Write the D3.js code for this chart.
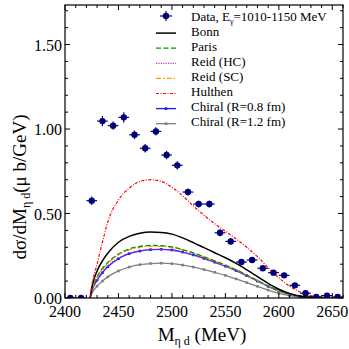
<!doctype html>
<html lang="en">
<head>
  <meta charset="utf-8">
  <title>eta d invariant mass</title>
  <style>
    body { margin: 0; background: #fff; }
    svg text { font-family: "Liberation Serif", "Times New Roman", serif; }
  </style>
</head>
<body>
<svg id="mysvg"></svg>
<script src="https://d3js.org/d3.v7.min.js"></script>
<script>
// measured points
var dataMass = [2405, 2415, 2425, 2435, 2445, 2455, 2465, 2475, 2485, 2495, 2505, 2515, 2525,
  2535, 2545, 2555, 2565, 2575, 2585, 2595, 2605, 2615, 2625, 2635, 2645, 2655];
var dataValue = [0, 0, 0.576, 1.047, 1.02, 1.069, 0.966, 0.886, 0.986, 0.846, 0.785, 0.627, 0.556,
  0.556, 0.386, 0.335, 0.213, 0.225, 0.176, 0.15, 0.134, 0.075, 0.028, 0.006, 0.014, 0.006];
var dataError = [0.01, 0.01, 0.025, 0.03, 0.025, 0.03, 0.025, 0.025, 0.025, 0.025, 0.025, 0.02, 0.02,
  0.02, 0.02, 0.02, 0.015, 0.015, 0.015, 0.015, 0.015, 0.01, 0.01, 0.008, 0.008, 0.008];
var binHalf = 5;

// model curves
var curveMass = [2423.5, 2425, 2430, 2435, 2440, 2450, 2460, 2470, 2480, 2490, 2500, 2510, 2520,
  2530, 2540, 2550, 2560, 2570, 2580, 2590, 2600, 2610, 2620, 2630, 2640, 2650, 2660];
var bonn = [0, 0.06, 0.16, 0.22, 0.265, 0.33, 0.365, 0.383, 0.39, 0.388, 0.378, 0.356, 0.328,
  0.298, 0.268, 0.238, 0.205, 0.167, 0.127, 0.087, 0.052, 0.027, 0.011, 0.004, 0.001, 0, 0];
var paris = [0, 0.045, 0.125, 0.175, 0.21, 0.26, 0.29, 0.305, 0.311, 0.31, 0.302, 0.287, 0.267,
  0.244, 0.22, 0.195, 0.167, 0.136, 0.104, 0.072, 0.044, 0.023, 0.01, 0.004, 0.001, 0, 0];
var reidHC = [0, 0.04, 0.11, 0.155, 0.19, 0.237, 0.265, 0.28, 0.287, 0.288, 0.283, 0.27, 0.253,
  0.232, 0.21, 0.186, 0.16, 0.13, 0.099, 0.068, 0.041, 0.021, 0.009, 0.003, 0.001, 0, 0];
var reidSC = [0, 0.044, 0.122, 0.17, 0.205, 0.255, 0.285, 0.3, 0.306, 0.306, 0.299, 0.285, 0.266,
  0.243, 0.219, 0.194, 0.166, 0.135, 0.103, 0.071, 0.043, 0.022, 0.01, 0.004, 0.001, 0, 0];
var hulthen = [0, 0.07, 0.2, 0.33, 0.45, 0.58, 0.65, 0.69, 0.70, 0.69, 0.655, 0.605, 0.545,
  0.49, 0.44, 0.395, 0.35, 0.3, 0.245, 0.18, 0.12, 0.07, 0.035, 0.013, 0.004, 0.001, 0];
var chiral08 = [0, 0.038, 0.105, 0.15, 0.185, 0.232, 0.262, 0.278, 0.286, 0.288, 0.284, 0.272, 0.255,
  0.234, 0.212, 0.188, 0.162, 0.132, 0.1, 0.069, 0.042, 0.021, 0.009, 0.003, 0.001, 0, 0];
var chiral12 = [0, 0.025, 0.07, 0.1, 0.125, 0.16, 0.183, 0.197, 0.204, 0.206, 0.203, 0.195, 0.183,
  0.168, 0.152, 0.134, 0.113, 0.091, 0.069, 0.047, 0.028, 0.014, 0.006, 0.002, 0.001, 0, 0];

var xTicks = [2400, 2450, 2500, 2550, 2600, 2650];
var yTicks = [0, 0.5, 1.0, 1.5];

var width = 349, height = 349;
var margin = {top: 5, right: 6, bottom: 51, left: 65};

var svg = d3.select("#mysvg").attr("width", width).attr("height", height);

var x = d3.scaleLinear().domain([2400, 2660]).range([margin.left, width - margin.right]);
var y = d3.scaleLinear().domain([0, 1.734]).range([height - margin.bottom, margin.top]);

var navy = "#00007a";

var models = [
  {name: "Bonn", values: bonn, color: "#000000", dash: null, width: 1.5},
  {name: "Paris", values: paris, color: "#009900", dash: "5,2.5", width: 1.3},
  {name: "Reid (HC)", values: reidHC, color: "#cc33cc", dash: "1.2,1.2", width: 1.2},
  {name: "Reid (SC)", values: reidSC, color: "#ff9900", dash: "5,2,1.5,2", width: 1.3},
  {name: "Hulthen", values: hulthen, color: "#ff0000", dash: "3,1.5,1,1.5", width: 1.2},
  {name: "Chiral (R=0.8 fm)", values: chiral08, color: "#1a1aff", dash: null, width: 1.3, marker: true},
  {name: "Chiral (R=1.2 fm)", values: chiral12, color: "#808080", dash: null, width: 1.3, marker: true}
];

var plot = svg.append("g");
svg.append("clipPath").attr("id", "plotclip").append("rect")
  .attr("x", margin.left).attr("y", margin.top)
  .attr("width", width - margin.left - margin.right)
  .attr("height", height - margin.top - margin.bottom);
plot.attr("clip-path", "url(#plotclip)");

var line = d3.line()
  .x(function(d) { return x(d[0]); })
  .y(function(d) { return y(d[1]); })
  .curve(d3.curveMonotoneX);

// draw in an order so black sits on top of the close lines
var drawOrder = [6, 5, 2, 3, 1, 0, 4];
drawOrder.forEach(function(i) {
  var m = models[i];
  var pts = curveMass.map(function(mm, k) { return [mm, m.values[k]]; });
  plot.append("path").datum(pts).attr("d", line)
    .style("fill", "none")
    .style("stroke", m.color)
    .style("stroke-width", m.width)
    .style("stroke-dasharray", m.dash);
  if (m.marker) {
    plot.selectAll(null).data(pts.slice(2, 24)).enter()
      .append("rect")
      .attr("x", function(d) { return x(d[0]) - 1.3; })
      .attr("y", function(d) { return y(d[1]) - 1.3; })
      .attr("width", 2.6).attr("height", 2.6)
      .style("fill", m.color);
  }
});

// data points with error bars
var pts = dataMass.map(function(m, i) { return {m: m, v: dataValue[i], e: dataError[i]}; });
var g = plot.selectAll("g.pt").data(pts).enter().append("g").attr("class", "pt");
g.append("line")
  .attr("x1", function(d) { return x(d.m - binHalf); })
  .attr("x2", function(d) { return x(d.m + binHalf); })
  .attr("y1", function(d) { return y(d.v); })
  .attr("y2", function(d) { return y(d.v); })
  .style("stroke", navy).style("stroke-width", 1.2);
g.append("line")
  .attr("x1", function(d) { return x(d.m); })
  .attr("x2", function(d) { return x(d.m); })
  .attr("y1", function(d) { return y(d.v - d.e); })
  .attr("y2", function(d) { return y(d.v + d.e); })
  .style("stroke", navy).style("stroke-width", 1.2);
g.append("circle")
  .attr("cx", function(d) { return x(d.m); })
  .attr("cy", function(d) { return y(d.v); })
  .attr("r", 3.2)
  .style("fill", navy);

// frame and ticks (inward on all four sides)
var x0 = margin.left, x1 = width - margin.right, y0 = height - margin.bottom, y1 = margin.top;
var axes = svg.append("g");
axes.append("rect").attr("x", x0).attr("y", y1).attr("width", x1 - x0).attr("height", y0 - y1)
  .style("fill", "none").style("stroke", "#000").style("stroke-width", 1.2);

var xMinor = d3.range(2400, 2661, 10);
var yMinor = d3.range(0, 1.74, 0.1);
xMinor.forEach(function(t) {
  var major = Math.abs(t % 50) < 1e-6;
  var len = major ? 5 : 3;
  axes.append("line").attr("x1", x(t)).attr("x2", x(t)).attr("y1", y0).attr("y2", y0 - len)
    .style("stroke", "#000").style("stroke-width", 1);
  axes.append("line").attr("x1", x(t)).attr("x2", x(t)).attr("y1", y1).attr("y2", y1 + len)
    .style("stroke", "#000").style("stroke-width", 1);
});
yMinor.forEach(function(t, i) {
  var major = i % 5 === 0;
  var len = major ? 5 : 3;
  axes.append("line").attr("x1", x0).attr("x2", x0 + len).attr("y1", y(t)).attr("y2", y(t))
    .style("stroke", "#000").style("stroke-width", 1);
  axes.append("line").attr("x1", x1).attr("x2", x1 - len).attr("y1", y(t)).attr("y2", y(t))
    .style("stroke", "#000").style("stroke-width", 1);
});

axes.selectAll("text.xt").data(xTicks).enter().append("text")
  .attr("x", function(d) { return x(d); })
  .attr("y", y0 + 19)
  .attr("text-anchor", "middle")
  .style("font-size", "16px")
  .text(function(d) { return d; });

axes.selectAll("text.yt").data(yTicks).enter().append("text")
  .attr("x", x0 - 3)
  .attr("y", function(d) { return y(d) + 6; })
  .attr("text-anchor", "end")
  .style("font-size", "16px")
  .text(function(d) { return d3.format(".2f")(d); });

// axis titles
var xt = svg.append("text").attr("x", 202).attr("y", 341).attr("text-anchor", "middle")
  .style("font-size", "19px");
xt.append("tspan").text("M");
xt.append("tspan").attr("dy", 4).style("font-size", "12px").text("\u03b7 d");
xt.append("tspan").attr("dy", -4).text(" (MeV)");

var yt = svg.append("text")
  .attr("transform", "translate(26,187) rotate(-90)")
  .attr("text-anchor", "middle")
  .style("font-size", "19px");
yt.append("tspan").text("d\u03c3/dM");
yt.append("tspan").attr("dy", 4).style("font-size", "12px").text("\u03b7 d");
yt.append("tspan").attr("dy", -4).text("(\u03bc b/GeV)");

// legend
var legX = 166, legTextX = 191, legY0 = 16, legStep = 15.1;
var leg = svg.append("g");
leg.append("line").attr("x1", legX - 6).attr("x2", legX + 6).attr("y1", legY0).attr("y2", legY0)
  .style("stroke", navy).style("stroke-width", 1.2);
leg.append("line").attr("x1", legX).attr("x2", legX).attr("y1", legY0 - 5).attr("y2", legY0 + 5)
  .style("stroke", navy).style("stroke-width", 1.2);
leg.append("circle").attr("cx", legX).attr("cy", legY0).attr("r", 3.2).style("fill", navy);
var dt = leg.append("text").attr("x", legTextX).attr("y", legY0 + 4.5).style("font-size", "13px");
dt.append("tspan").text("Data, E");
dt.append("tspan").attr("dy", 3).style("font-size", "8px").text("\u03b3");
dt.append("tspan").attr("dy", -3).text("=1010-1150 MeV");

models.forEach(function(m, i) {
  var yy = legY0 + legStep * (i + 1);
  var ly = yy + 2;
  leg.append("line").attr("x1", legX - 10).attr("x2", legX + 10).attr("y1", ly).attr("y2", ly)
    .style("stroke", m.color).style("stroke-width", m.width)
    .style("stroke-dasharray", m.dash);
  if (m.marker) {
    leg.append("rect").attr("x", legX - 1.3).attr("y", ly - 1.3).attr("width", 2.6).attr("height", 2.6)
      .style("fill", m.color);
  }
  leg.append("text").attr("x", legTextX).attr("y", yy + 4.5).style("font-size", "13px").text(m.name);
});
</script>
</body>
</html>
